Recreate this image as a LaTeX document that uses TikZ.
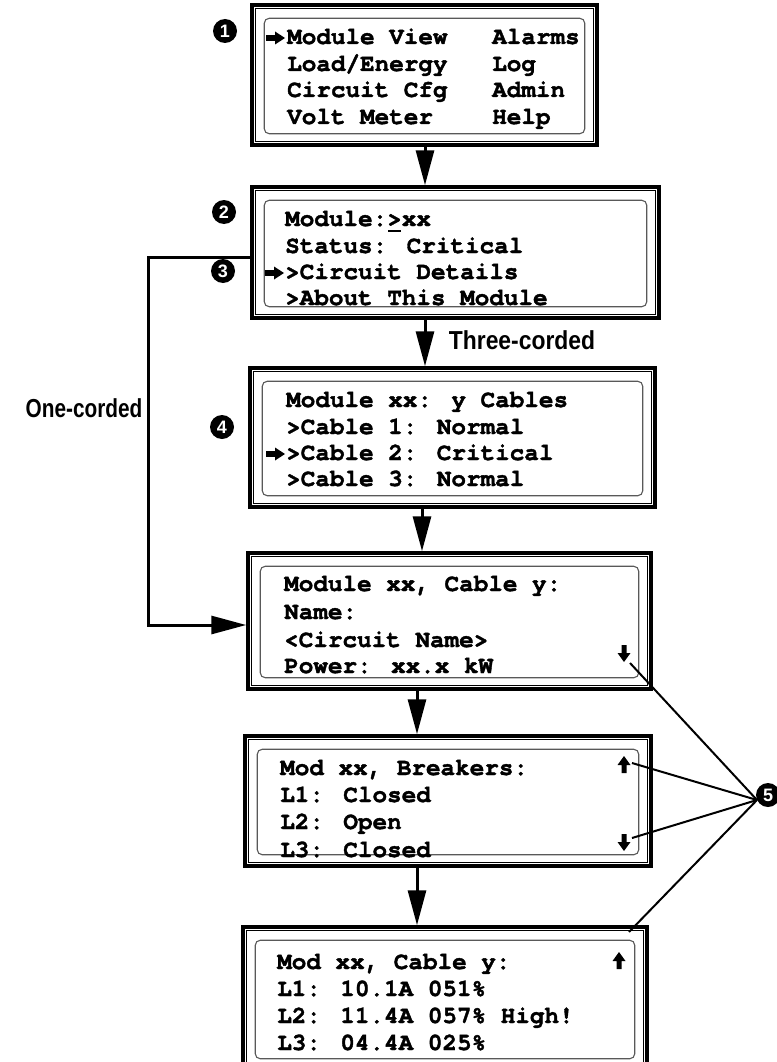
\documentclass[tikz,border=0pt]{standalone}
\usepackage{fontspec}
\usetikzlibrary{arrows.meta}
\newfontfamily\lcdfont{texgyrecursor-bold.otf}[FakeBold=1.6]
\newfontfamily\lblfont{Liberation Sans}[FakeStretch=0.88]
\newfontfamily\lblnarrow{Liberation Sans}[FakeStretch=0.8]
\newfontfamily\numfont{Liberation Sans}
\tikzset{
  lcdtxt/.style={anchor=base west, inner sep=0, font=\lcdfont\fontsize{24.3}{26}\selectfont},
  lcdouter/.style={draw, line width=3.5pt, inner sep=0, fill=white},
  lcdmid/.style={line width=1pt},
  lcdinner/.style={draw=black!65, line width=1.1pt, rounded corners=5pt},
  conn/.style={line width=3pt, -{Triangle[length=35pt,width=18pt]}},
  lead/.style={line width=2pt},
  num/.style={circle, fill=black, text=white, minimum size=24pt, inner sep=0, font=\numfont\bfseries\fontsize{18}{18}\selectfont},
  lbl/.style={font=\lblfont\bfseries\fontsize{26}{26}\selectfont, inner sep=0},
  lblb/.style={font=\lblnarrow\bfseries\fontsize{26}{26}\selectfont, inner sep=0},
}
\newcommand\lcdscreen[5]{%
  \pgfmathsetmacro\lcdw{#4-#2}\pgfmathsetmacro\lcdh{#5-#3}%
  \node[lcdouter, minimum width=\lcdw pt, minimum height=\lcdh pt] (#1) at ({(#2+#4)/2},{(#3+#5)/2}) {};
  \draw[lcdmid] ([shift={(5,5)}]#1.north west) rectangle ([shift={(-5,-5)}]#1.south east);
  \draw[lcdinner] ([shift={(14,15)}]#1.north west) rectangle ([shift={(-14,-13)}]#1.south east);
}
% scroll arrows: x, y of tip
\newcommand\scrollup[2]{\fill (#1,#2) -- (#1+6.5,#2+9) -- (#1+2.5,#2+9) -- (#1+2.5,#2+17) -- (#1-2.5,#2+17) -- (#1-2.5,#2+9) -- (#1-6.5,#2+9) -- cycle;}
\newcommand\scrolldown[2]{\fill (#1,#2) -- (#1+6.5,#2-9) -- (#1+2.5,#2-9) -- (#1+2.5,#2-17) -- (#1-2.5,#2-17) -- (#1-2.5,#2-9) -- (#1-6.5,#2-9) -- cycle;}
% row pointer arrow: x, y of tip
\newcommand\rowptr[2]{\fill (#1,#2) -- (#1-10,#2-6.5) -- (#1-10,#2-2.8) -- (#1-19,#2-2.8) -- (#1-19,#2+2.8) -- (#1-10,#2+2.8) -- (#1-10,#2+6.5) -- cycle;}
\begin{document}
\begin{tikzpicture}[x=1pt,y=-1pt]
\useasboundingbox (0,0) rectangle (776,1062);
% screens
\lcdscreen{b1}{252}{5}{597}{145}
\lcdscreen{b2}{252}{187}{659}{318}
\lcdscreen{b3}{250}{368}{655}{507}
\lcdscreen{b4}{248}{553}{651}{689}
\lcdscreen{b5}{245}{736}{651}{866}
\lcdscreen{b6}{243}{927}{647}{1070}
% screen 1 text
\node[lcdtxt] (t11) at (287,44) {Module View};
\node[lcdtxt] (t12) at (287,71) {Load/Energy};
\node[lcdtxt] (t13) at (287,97) {Circuit Cfg};
\node[lcdtxt] (t14) at (287,124) {Volt Meter};
\node[lcdtxt] (t15) at (492,44) {Alarms};
\node[lcdtxt] (t16) at (492,71) {Log};
\node[lcdtxt] (t17) at (492,97) {Admin};
\node[lcdtxt] (t18) at (492,124) {Help};
\rowptr{285}{38}
% screen 2 text
\node[lcdtxt] (t21) at (285,226) {Module:>xx};
\draw[line width=2pt] (388,231) -- (401,231);
\node[lcdtxt] (t22) at (285,253) {Status: Critical};
\node[lcdtxt] (t23) at (285,279) {>Circuit Details};
\node[lcdtxt] (t24) at (285,305) {>About This Module};
\rowptr{284}{273}
% screen 3 text
\node[lcdtxt] (t31) at (286,407) {Module xx: y Cables};
\node[lcdtxt] (t32) at (286,434) {>Cable 1: Normal};
\node[lcdtxt] (t33) at (286,460) {>Cable 2: Critical};
\node[lcdtxt] (t34) at (286,486) {>Cable 3: Normal};
\rowptr{285}{454}
% screen 4 text
\node[lcdtxt] (t41) at (284,591) {Module xx, Cable y:};
\node[lcdtxt] (t42) at (284,619) {Name:};
\node[lcdtxt] (t43) at (284,647) {<Circuit Name>};
\node[lcdtxt] (t44) at (284,673) {Power: xx.x kW};
\scrolldown{624}{662}
\coordinate (s4) at (630,663);
% screen 5 text
\node[lcdtxt] (t51) at (280,775) {Mod xx, Breakers:};
\node[lcdtxt] (t52) at (280,802) {L1: Closed};
\node[lcdtxt] (t53) at (280,829) {L2: Open};
\node[lcdtxt] (t54) at (280,857) {L3: Closed};
\scrollup{624}{756}
\scrolldown{624}{851}
\coordinate (s5a) at (632,763);
\coordinate (s5b) at (632,838);
% screen 6 text
\node[lcdtxt] (t61) at (277,969) {Mod xx, Cable y:};
\node[lcdtxt] (t62) at (277,996) {L1: 10.1A 051\%};
\node[lcdtxt] (t63) at (277,1023) {L2: 11.4A 057\% High!};
\node[lcdtxt] (t64) at (277,1050) {L3: 04.4A 025\%};
\scrollup{619}{952}
\coordinate (s6) at (629,932);
% flow connectors
\coordinate (x1) at (425,0);
\coordinate (x2) at (422,0);
\coordinate (x3) at (417,0);
\draw[conn] (b1.south -| x1) -- (b2.north -| x1);
\draw[conn] (b2.south -| x1) -- (b3.north -| x1);
\draw[conn] (b3.south -| x2) -- (b4.north -| x2);
\draw[conn] (b4.south -| x3) -- (b5.north -| x3);
\draw[conn] (b5.south -| x3) -- (b6.north -| x3);
\coordinate (oc1) at (148,257);
\coordinate (oc2) at (148,625);
\draw[conn] (b2.west |- oc1) -- (oc1) -- (oc2) -- (b4.west |- oc2);
\node[lbl] (l3) at (522,340) {Three-corded};
\node[lblb] (l1) at (84,408) {One-corded};
% markers
\node[num] (m1) at (225,31) {1};
\node[num] (m2) at (224,212) {2};
\node[num] (m3) at (223,271) {3};
\node[num] (m4) at (222,427) {4};
\coordinate (c5) at (757,800);
\draw[lead] (c5) -- (s4);
\draw[lead] (c5) -- (s5a);
\draw[lead] (c5) -- (s5b);
\draw[lead] (c5) -- (s6);
\node[num] (m5) at (768,795) {5};
\end{tikzpicture}
\end{document}
